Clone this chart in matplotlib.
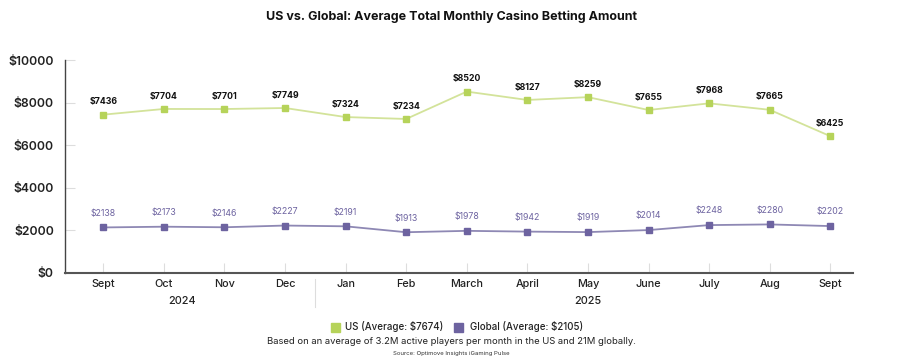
import matplotlib
matplotlib.use('Agg')
import numpy as np
import matplotlib.pyplot as plt
from matplotlib.patches import Rectangle

months = ['Sept', 'Oct', 'Nov', 'Dec', 'Jan', 'Feb', 'March', 'April', 'May',
          'June', 'July', 'Aug', 'Sept']
us = [7436, 7704, 7701, 7749, 7324, 7234, 8520, 8127, 8259, 7655, 7968, 7665, 6425]
glob = [2138, 2173, 2146, 2227, 2191, 1913, 1978, 1942, 1919, 2014, 2248, 2280, 2202]
years = ['2024', '2025']
year_pos = [1.3, 8]
yticks = [0, 2000, 4000, 6000, 8000, 10000]

plt.rcParams['font.family'] = ['Inter', 'DejaVu Sans']

green = '#b6d35a'
green_line = '#d3e39a'
purple = '#6d63a0'
purple_line = '#8e88b4'

fig = plt.figure(figsize=(9.03, 3.62), dpi=100)
ax = fig.add_axes([0.072, 0.246, 0.873, 0.588])
x = np.arange(len(months))

ax.plot(x, us, color=green_line, lw=1.3, zorder=2)
ax.plot(x, us, 's', color=green, ms=5, zorder=3)
ax.plot(x, glob, color=purple_line, lw=1.3, zorder=2)
ax.plot(x, glob, 's', color=purple, ms=5, zorder=3)

for i in range(len(x)):
    ax.annotate('$%d' % us[i], (x[i], us[i]), xytext=(0, 6), textcoords='offset points',
                ha='center', va='bottom', fontsize=6.3, fontweight='bold', color='#111111')
    ax.annotate('$%d' % glob[i], (x[i], glob[i]), xytext=(0, 7), textcoords='offset points',
                ha='center', va='bottom', fontsize=6.3, color=purple)

ax.set_xlim(-0.63, 12.38)
ax.set_ylim(0, 10000)
ax.set_xticks(x)
ax.set_xticklabels(months, fontsize=7.8, fontweight='medium', color='#222222')
ax.set_yticks(yticks)
ax.set_yticklabels(['$%d' % v for v in yticks], fontsize=8.8, fontweight='semibold', color='#222222')
ax.tick_params(axis='both', direction='in', length=7, color='#dddddd')
ax.tick_params(axis='x', pad=4)
ax.tick_params(axis='y', pad=8)
for s in ['top', 'right']:
    ax.spines[s].set_visible(False)
ax.spines['left'].set_color('#444444')
ax.spines['bottom'].set_color('#555555')
ax.spines['left'].set_linewidth(1.0)
ax.spines['bottom'].set_linewidth(1.5)

for yr, p in zip(years, year_pos):
    ax.text(p, -0.13, yr, transform=ax.get_xaxis_transform(), ha='center', va='center',
            fontsize=7.8, fontweight='medium', color='#222222')
ax.plot([3.5, 3.5], [-0.03, -0.16], transform=ax.get_xaxis_transform(), clip_on=False,
        color='#dddddd', lw=0.8)

fig.text(0.5, 0.953, 'US vs. Global: Average Total Monthly Casino Betting Amount',
         ha='center', va='center', fontsize=9, fontweight='bold', color='#111111')

# legend
fig.patches.append(Rectangle((331 / 903, 1 - 332 / 362), 9 / 903, 9 / 362,
                             transform=fig.transFigure, color=green))
fig.text(345 / 903, 1 - 327 / 362, 'US (Average: $7674)', ha='left', va='center',
         fontsize=7, fontweight='medium', color='#222222')
fig.patches.append(Rectangle((454 / 903, 1 - 332 / 362), 9 / 903, 9 / 362,
                             transform=fig.transFigure, color=purple))
fig.text(470 / 903, 1 - 327 / 362, 'Global (Average: $2105)', ha='left', va='center',
         fontsize=7, fontweight='medium', color='#222222')
fig.text(0.5, 1 - 342 / 362,
         'Based on an average of 3.2M active players per month in the US and 21M globally.',
         ha='center', va='center', fontsize=6.8, color='#222222')
fig.text(0.5, 1 - 354 / 362, 'Source: Optimove Insights iGaming Pulse',
         ha='center', va='center', fontsize=4.3, color='#333333')

fig.savefig('out.png', dpi=100, facecolor='white')
